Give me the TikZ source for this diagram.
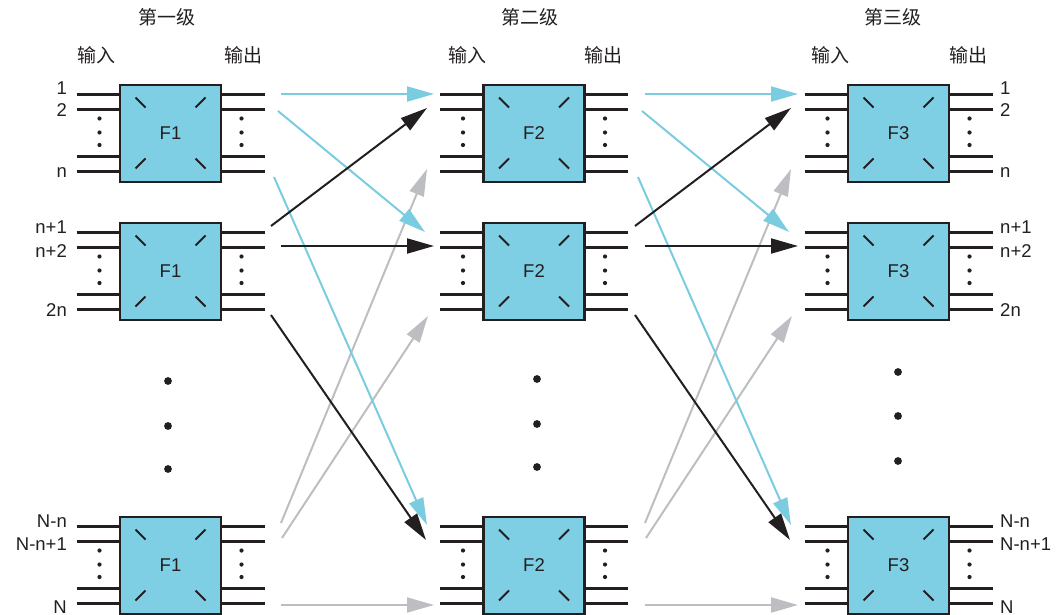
\documentclass[tikz,border=0pt]{standalone}
\usepackage{fontspec}
\setmainfont{Liberation Sans}
\newfontfamily\cjk{Noto Sans CJK SC}
\usetikzlibrary{arrows.meta}
\definecolor{boxfill}{HTML}{7ECFE3}
\definecolor{cyanline}{HTML}{7ACCE0}
\definecolor{grayline}{HTML}{BDBEC1}
\definecolor{darkline}{HTML}{231F20}
\begin{document}
\begin{tikzpicture}[x=1pt,y=-1pt,
  fbox/.style={draw=darkline,line width=2.4pt,fill=boxfill,minimum width=101pt,minimum height=97pt,inner sep=0pt,text=darkline,font=\fontsize{18.5}{20}\selectfont},
  stub/.style={draw=darkline,line width=2.2pt},
  boxmark/.style={draw=darkline,line width=1.8pt},
  conn/.style={line width=2pt,-{Triangle[length=27pt,width=15pt]}},
  lab/.style={font=\fontsize{18.5}{20}\selectfont,text=darkline,inner sep=0pt},
  hdr/.style={font=\cjk\fontsize{19}{20}\selectfont,text=darkline,inner sep=0pt},
]
\useasboundingbox (0,0) rectangle (1062,615);

% stubs, boxes, marks, small dots
\foreach \c/\cx in {1/170.5,2/534,3/898.5}{
  \foreach \r/\cy in {1/133.5,2/271.5,3/565.5}{
    \node[fbox] (b\c\r) at (\cx,\cy) {F\c};
    \foreach \k/\d in {1/-39,2/-24,3/23,4/38}{
      \coordinate (i\c\r\k) at ({\cx-94},{\cy+(\d)});
      \coordinate (o\c\r\k) at ({\cx+94},{\cy+(\d)});
      \draw[stub] (i\c\r\k) -- (b\c\r.west |- i\c\r\k);
      \draw[stub] (b\c\r.east |- o\c\r\k) -- (o\c\r\k);
    }
    \begin{scope}[shift={(b\c\r.center)}]
      \draw[boxmark] (-35,-36) -- (-25,-26);
      \draw[boxmark] (35,-36) -- (25,-26);
      \draw[boxmark] (-35,35) -- (-25,25);
      \draw[boxmark] (35,35) -- (25,25);
      \foreach \dy in {-15,-1,11.5}{
        \fill[darkline] (-71,\dy) circle (2.1pt);
        \fill[darkline] (71,\dy) circle (2.1pt);
      }
    \end{scope}
  }
}

% big dots
\foreach \x/\ya/\yb/\yc in {168/381/426/469, 537/379/424/467, 898/372/416/461}{
  \fill[darkline] (\x,\ya) circle (3.9pt);
  \fill[darkline] (\x,\yb) circle (3.9pt);
  \fill[darkline] (\x,\yc) circle (3.9pt);
}

% connectors between stages
\foreach \c/\sh in {1/0,2/364}{
  \begin{scope}[xshift=\sh pt]
    \coordinate (s\c-1) at (281,94);  \coordinate (e\c-1) at (434,94);
    \coordinate (s\c-2) at (278,111); \coordinate (e\c-2) at (425,232);
    \coordinate (s\c-3) at (274,177); \coordinate (e\c-3) at (427,525);
    \coordinate (s\c-4) at (271,226); \coordinate (e\c-4) at (427,108);
    \coordinate (s\c-5) at (281,246); \coordinate (e\c-5) at (434,246);
    \coordinate (s\c-6) at (271,315); \coordinate (e\c-6) at (426,540);
    \coordinate (s\c-7) at (281,523); \coordinate (e\c-7) at (427,169);
    \coordinate (s\c-8) at (282,538); \coordinate (e\c-8) at (428,316);
    \coordinate (s\c-9) at (281,605); \coordinate (e\c-9) at (434,605);
  \end{scope}
  \draw[conn,grayline] (s\c-7) -- (e\c-7);
  \draw[conn,grayline] (s\c-8) -- (e\c-8);
  \draw[conn,grayline] (s\c-9) -- (e\c-9);
  \draw[conn,cyanline] (s\c-1) -- (e\c-1);
  \draw[conn,cyanline] (s\c-2) -- (e\c-2);
  \draw[conn,cyanline] (s\c-3) -- (e\c-3);
  \draw[conn,darkline] (s\c-4) -- (e\c-4);
  \draw[conn,darkline] (s\c-5) -- (e\c-5);
  \draw[conn,darkline] (s\c-6) -- (e\c-6);
}

% headers
\node[hdr] (h1) at (166.5,17.5) {第一级};
\node[hdr] (h2) at (530,17.5) {第二级};
\node[hdr] (h3) at (893,17.5) {第三级};
\node[hdr] (in1) at (96,55) {输入};
\node[hdr] (out1) at (243,55) {输出};
\node[hdr] (in2) at (467,55) {输入};
\node[hdr] (out2) at (603,55) {输出};
\node[hdr] (in3) at (830,55) {输入};
\node[hdr] (out3) at (968,55) {输出};

% port labels
\foreach \t/\yy [count=\n] in {1/95, 2/117, n/177, n+1/233, n+2/257, 2n/316, N-n/527, N-n+1/550, N/613}{
  \node[lab,anchor=base east] (l\n) at (67,\yy) {\t};
  \node[lab,anchor=base west] (r\n) at (1000,\yy) {\t};
}
\end{tikzpicture}
\end{document}
